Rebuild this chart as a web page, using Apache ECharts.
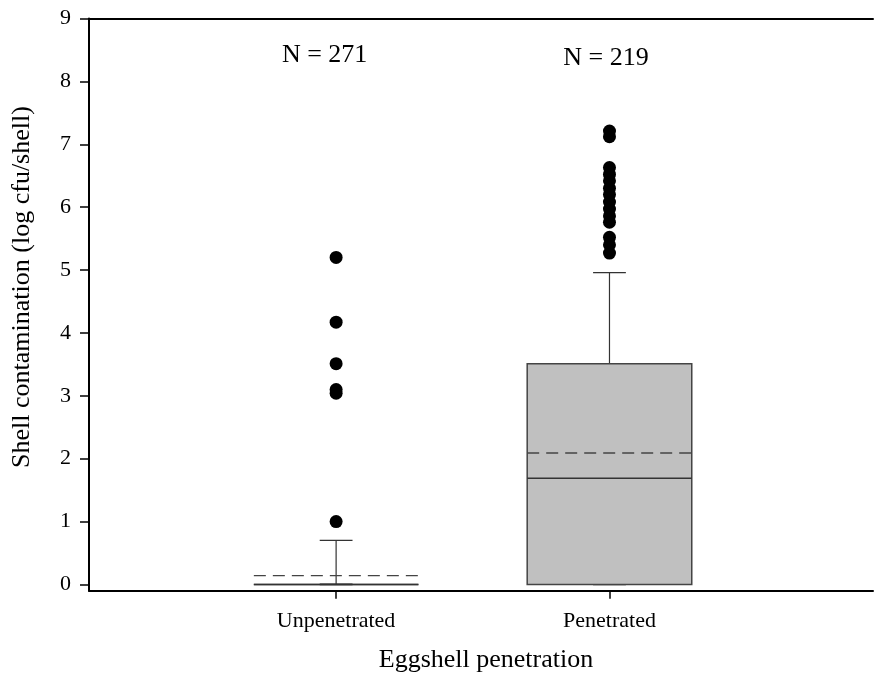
<!DOCTYPE html>
<html>
<head>
<meta charset="utf-8">
<script src="https://cdn.jsdelivr.net/npm/echarts@6/dist/echarts.min.js"></script>
<style>html,body{margin:0;padding:0;background:#fff}#c{width:874px;height:686px}</style>
</head>
<body>
<div id="c"></div>
<script>
// ---- data ----
var categories = ['Unpenetrated', 'Penetrated'];
var positions = [1, 2];
var whiskerLow = [0, 0];
var q1 = [0, 0];
var median = [0, 1.69];
var q3 = [0, 3.51];
var whiskerHigh = [0.70, 4.96];
var mean = [0.14, 2.09];
var outliersUnpenetrated = [5.20, 4.17, 3.51, 3.10, 3.04, 1.00];
var outliersPenetrated = [7.21, 7.12, 6.63, 6.52, 6.42, 6.30, 6.20, 6.08, 5.97, 5.86, 5.76, 5.52, 5.40, 5.27];
var nLabels = ['N = 271', 'N = 219'];
var yTicks = [0, 1, 2, 3, 4, 5, 6, 7, 8, 9];

var FONT = '"Liberation Serif", "Times New Roman", serif';

var boxData = positions.map(function (p, i) {
  return [p, whiskerLow[i], q1[i], median[i], q3[i], whiskerHigh[i], mean[i]];
});
var outData1 = outliersUnpenetrated.map(function (v) { return [positions[0], v]; });
var outData2 = outliersPenetrated.map(function (v) { return [positions[1], v]; });
var nData = [[positions[0] - 0.042, 8.42, 0], [positions[1] - 0.013, 8.37, 1]];

var chart = echarts.init(document.getElementById('c'), null, {renderer: 'canvas'});

function renderBox(params, api) {
  var x = api.value(0);
  var lo = api.value(1), a = api.value(2), m = api.value(3), b = api.value(4), hi = api.value(5), mn = api.value(6);
  var halfW = 0.301, capW = 0.06;
  var pLT = api.coord([x - halfW, b]);
  var pRB = api.coord([x + halfW, a]);
  var cx = api.coord([x, 0])[0];
  var yHi = api.coord([x, hi])[1], yB = api.coord([x, b])[1];
  var yLo = api.coord([x, lo])[1], yA = api.coord([x, a])[1];
  var yM = api.coord([x, m])[1], yMn = api.coord([x, mn])[1];
  var capL = api.coord([x - capW, 0])[0], capR = api.coord([x + capW, 0])[0];
  var lineStyle = {stroke: '#333', lineWidth: 1.2};
  var filled = (b - a) > 0;
  return {
    type: 'group',
    children: [
      {type: 'line', shape: {x1: cx, y1: yB, x2: cx, y2: yHi}, style: lineStyle},
      {type: 'line', shape: {x1: capL, y1: yHi, x2: capR, y2: yHi}, style: lineStyle},
      {type: 'line', shape: {x1: cx, y1: yA, x2: cx, y2: yLo}, style: lineStyle},
      {type: 'line', shape: {x1: capL, y1: yLo, x2: capR, y2: yLo}, style: {stroke: '#222', lineWidth: 1.8}},
      {type: 'rect', shape: {x: pLT[0], y: pLT[1], width: pRB[0] - pLT[0], height: pRB[1] - pLT[1]},
        style: {fill: filled ? '#c0c0c0' : 'none', stroke: '#444', lineWidth: 1.5}},
      {type: 'line', shape: {x1: pLT[0], y1: yM, x2: pRB[0], y2: yM}, style: {stroke: '#333', lineWidth: 1.5}},
      {type: 'line', shape: {x1: pLT[0], y1: yMn, x2: pRB[0], y2: yMn},
        style: {stroke: '#444', lineWidth: 1.4, lineDash: [12, 7]}}
    ]
  };
}

var option = {
  backgroundColor: '#fff',
  animation: false,
  grid: {left: 89, right: 1, top: 18.5, bottom: 95.3, containLabel: false},
  xAxis: [{
    type: 'value', min: 0.096, max: 2.964, position: 'bottom',
    axisLine: {show: true, onZero: false, lineStyle: {color: '#000', width: 2}},
    axisTick: {show: true, customValues: positions, length: 8, lineStyle: {color: '#000', width: 1.5}},
    axisLabel: {show: true, customValues: positions, margin: 20, color: '#000',
      fontFamily: FONT, fontSize: 22,
      formatter: function (v) { var i = positions.indexOf(Math.round(v)); return i >= 0 ? categories[i] : ''; }},
    splitLine: {show: false}
  }, {
    type: 'value', min: 0.096, max: 2.964, position: 'top',
    axisLine: {show: true, onZero: false, lineStyle: {color: '#000', width: 2}},
    axisTick: {show: false}, axisLabel: {show: false}, splitLine: {show: false}
  }],
  yAxis: {
    type: 'value', min: -0.1, max: 9,
    axisLine: {show: true, onZero: false, lineStyle: {color: '#000', width: 2}},
    axisTick: {show: true, customValues: yTicks, length: 9, lineStyle: {color: '#000', width: 1.5}},
    axisLabel: {show: true, customValues: yTicks, margin: 18, color: '#000', fontFamily: FONT, fontSize: 22},
    splitLine: {show: false}
  },
  graphic: [
    {type: 'text', x: 22, y: 287, rotation: Math.PI / 2,
      style: {text: 'Shell contamination (log cfu/shell)', fill: '#000', font: '26px ' + FONT,
        textAlign: 'center', textVerticalAlign: 'middle'}},
    {type: 'text', x: 486, y: 660,
      style: {text: 'Eggshell penetration', fill: '#000', font: '26px ' + FONT,
        textAlign: 'center', textVerticalAlign: 'middle'}}
  ],
  series: [
    {type: 'custom', renderItem: renderBox, data: boxData, xAxisIndex: 0, z: 2,
      encode: {x: 0, y: [1, 2, 3, 4, 5, 6]}},
    {type: 'scatter', data: outData1, symbol: 'circle', symbolSize: 13,
      itemStyle: {color: '#000', opacity: 1}, z: 3},
    {type: 'scatter', data: outData2, symbol: 'circle', symbolSize: 13,
      itemStyle: {color: '#000', opacity: 1}, z: 3},
    {type: 'scatter', data: nData, symbolSize: 0, z: 4, itemStyle: {opacity: 1},
      label: {show: true, position: 'inside', color: '#000', opacity: 1, fontFamily: FONT, fontSize: 26,
        formatter: function (p) { return nLabels[p.data[2]]; }}}
  ]
};
chart.setOption(option);
</script>
</body>
</html>
